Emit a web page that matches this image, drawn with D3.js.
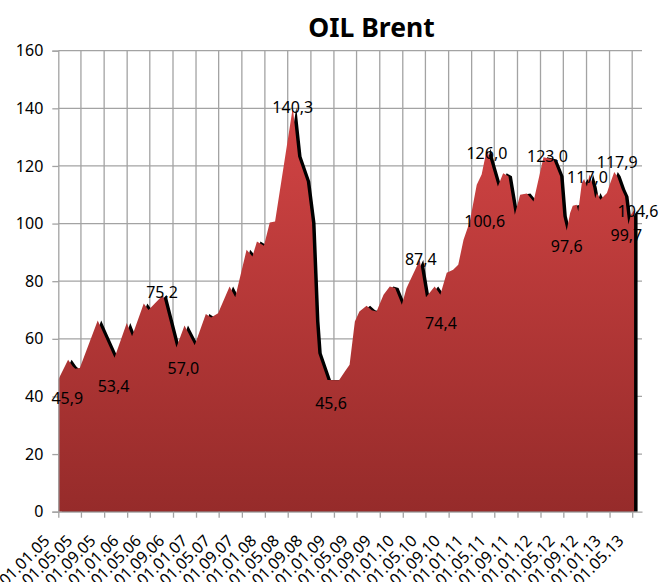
<!DOCTYPE html>
<html>
<head>
<meta charset="utf-8">
<script src="https://d3js.org/d3.v7.min.js"></script>
<style>
  body { margin: 0; background: #fff; }
  svg text { font-family: "Noto Sans", "Open Sans", sans-serif; fill: #000; }
</style>
</head>
<body>
<div id="chart"></div>
<script>
// Brent, USD per barrel
const dates = [
  "2005-01-01", "2005-02-22", "2005-03-19", "2005-04-01", "2005-04-25", "2005-07-29",
  "2005-10-26", "2005-12-30", "2006-01-27", "2006-03-30", "2006-04-24", "2006-07-10",
  "2006-09-19", "2006-11-01", "2006-12-25", "2007-02-22", "2007-03-22", "2007-04-28",
  "2007-06-28", "2007-07-28", "2007-09-26", "2007-10-27", "2007-11-20", "2007-12-27",
  "2008-01-27", "2008-02-24", "2008-05-28", "2008-06-25", "2008-08-10", "2008-09-07",
  "2008-09-28", "2008-10-10", "2008-11-28", "2009-01-28", "2009-02-28", "2009-03-25",
  "2009-04-22", "2009-05-16", "2009-06-23", "2009-07-20", "2009-08-15", "2009-09-21",
  "2009-10-24", "2009-11-21", "2009-12-27", "2010-01-21", "2010-04-01", "2010-05-04",
  "2010-06-19", "2010-07-19", "2010-08-22", "2010-09-25", "2010-10-22", "2010-11-19",
  "2010-12-22", "2011-01-28", "2011-02-23", "2011-03-23", "2011-05-20", "2011-06-17",
  "2011-07-15", "2011-08-18", "2011-09-15", "2011-10-21", "2011-11-25", "2012-01-17",
  "2012-03-09", "2012-04-14", "2012-05-01", "2012-05-19", "2012-06-06", "2012-06-20",
  "2012-07-11", "2012-07-19", "2012-08-07", "2012-08-19", "2012-09-03", "2012-09-17",
  "2012-10-06", "2012-10-17", "2012-10-26", "2012-11-13", "2012-11-30", "2012-12-18",
  "2013-01-05", "2013-01-26", "2013-02-10", "2013-03-07", "2013-03-24", "2013-04-11",
  "2013-04-24", "2013-05-11"
]
const prices = [
  45.9, 52.7, 50.4, 49.6, 49.9, 66.4,
  53.4, 65.5, 60.9, 72.3, 70.0, 75.2,
  57.0, 64.6, 57.8, 68.6, 67.4, 68.9,
  78.2, 74.4, 90.9, 88.6, 93.8, 92.3,
  100.4, 100.7, 140.3, 123.3, 114.6, 100.2,
  66.0, 55.0, 45.7, 45.6, 48.7, 51.0,
  66.0, 69.5, 71.5, 69.9, 69.5, 75.3,
  78.2, 77.6, 71.8, 77.6, 87.4, 74.4,
  78.2, 75.3, 82.9, 84.0, 85.7, 94.4,
  100.6, 113.5, 117.0, 126.0, 112.9, 117.5,
  116.4, 103.1, 110.0, 110.4, 107.7, 123.0,
  122.2, 116.4, 102.5, 97.6, 103.7, 106.2,
  106.5, 104.2, 114.1, 115.5, 112.9, 117.0,
  112.7, 108.8, 110.6, 108.3, 109.4, 110.6,
  114.1, 117.9, 116.4, 111.8, 109.4, 99.7,
  103.1, 104.6
]
// points that carry a value label
const labelDates = [
  "2005-01-01", "2005-10-26", "2006-07-10", "2006-09-19", "2008-05-28", "2009-01-28",
  "2010-04-01", "2010-05-04", "2011-03-23", "2010-12-22", "2012-01-17", "2012-05-19",
  "2012-09-17", "2013-01-26", "2013-05-11", "2013-04-11"
]
// where each label sits relative to its point (px)
const labelNudge = [
  [9, 19], [-1, 29], [-1, -3], [7, 21], [0, 0], [-8, 23],
  [1, 0], [15, 26], [0, 5], [15, 0], [4, -1], [0, 16],
  [-2, 3], [3, -10], [4, 1], [-2, 11]
]
const xTickLabels = [
  "01.01.05", "01.05.05", "01.09.05", "01.01.06", "01.05.06", "01.09.06", "01.01.07",
  "01.05.07", "01.09.07", "01.01.08", "01.05.08", "01.09.08", "01.01.09", "01.05.09",
  "01.09.09", "01.01.10", "01.05.10", "01.09.10", "01.01.11", "01.05.11", "01.09.11",
  "01.01.12", "01.05.12", "01.09.12", "01.01.13", "01.05.13"
]
const yTicks = [0, 20, 40, 60, 80, 100, 120, 140, 160]
const axisEnd = "2013-06-22"

const width = 660, height = 582
const plotLeft = 58.3, plotRight = 642, plotTop = 50.7, plotBottom = 511.7

const parse = d3.timeParse("%Y-%m-%d")
const parseTick = d3.timeParse("%d.%m.%y")
const data = dates.map((d, i) => ({date: parse(d), value: prices[i]}))
const byDate = new Map(data.map(d => [+d.date, d]))
const comma = d3.formatLocale({decimal: ",", thousands: " ", grouping: [3], currency: ["", ""]}).format(".1f")

const x = d3.scaleTime()
  .domain([parse(dates[0]), parse(axisEnd)])
  .range([plotLeft, plotRight])
const y = d3.scaleLinear()
  .domain([0, 160])
  .range([plotBottom, plotTop])

const svg = d3.select("#chart").append("svg")
  .attr("width", width)
  .attr("height", height)

const defs = svg.append("defs")
const grad = defs.append("linearGradient")
  .attr("id", "fillGrad")
  .attr("gradientUnits", "userSpaceOnUse")
  .attr("x1", 0).attr("x2", 0)
  .attr("y1", y(140)).attr("y2", y(0))
grad.append("stop").attr("offset", 0).attr("stop-color", "#d24444")
grad.append("stop").attr("offset", 1).attr("stop-color", "#962b2a")

// grid
const gridColor = "#a3a3a3"
svg.append("g").selectAll("line")
  .data(yTicks.slice(1))
  .join("line")
    .attr("x1", plotLeft).attr("x2", plotRight)
    .attr("y1", d => y(d)).attr("y2", d => y(d))
    .attr("stroke", gridColor).attr("stroke-width", 1.3)

const tickDates = xTickLabels.map(parseTick)
svg.append("g").selectAll("line")
  .data(tickDates.slice(1))
  .join("line")
    .attr("x1", d => x(d)).attr("x2", d => x(d))
    .attr("y1", plotTop).attr("y2", plotBottom)
    .attr("stroke", gridColor).attr("stroke-width", 1.3)

// area + its dark offset shadow
const area = d3.area()
  .x(d => x(d.date))
  .y0(y(0))
  .y1(d => y(d.value))

svg.append("path")
  .datum(data)
  .attr("d", area)
  .attr("fill", "#000")
  .attr("transform", "translate(3.5,0)")

svg.append("path")
  .datum(data)
  .attr("d", area)
  .attr("fill", "url(#fillGrad)")

// axes
const yAxis = svg.append("g")
  .attr("transform", `translate(${plotLeft},0)`)
  .call(d3.axisLeft(y).tickValues(yTicks).tickSize(6).tickPadding(9))
yAxis.select(".domain").attr("stroke", gridColor).attr("stroke-width", 1.3)
yAxis.selectAll(".tick line").attr("stroke", gridColor).attr("stroke-width", 1.3)
yAxis.selectAll(".tick text")
  .attr("font-size", 16)
  .attr("font-family", "Noto Sans")
  .attr("fill", "#000")

const xAxis = svg.append("g")
  .attr("transform", `translate(0,${plotBottom})`)
  .call(d3.axisBottom(x).tickValues(tickDates).tickFormat((d, i) => xTickLabels[i]).tickSize(6).tickSizeOuter(0))
xAxis.select(".domain").attr("stroke", gridColor).attr("stroke-width", 1.3)
xAxis.selectAll(".tick line").attr("stroke", gridColor).attr("stroke-width", 1.3)
xAxis.selectAll(".tick text")
  .attr("font-size", 16)
  .attr("font-family", "Noto Sans")
  .attr("fill", "#000")
  .attr("text-anchor", "end")
  .attr("y", 0).attr("dy", 0)
  .attr("transform", "translate(-8,30) rotate(-45)")

// value labels
svg.append("g").selectAll("text")
  .data(labelDates.map((d, i) => ({p: byDate.get(+parse(d)), n: labelNudge[i]})))
  .join("text")
    .attr("x", d => x(d.p.date) + d.n[0])
    .attr("y", d => y(d.p.value) + d.n[1])
    .attr("dy", "0.35em")
    .attr("text-anchor", "middle")
    .attr("font-size", 16)
    .text(d => comma(d.p.value))

svg.append("text")
  .attr("x", 371.5)
  .attr("y", 37)
  .attr("text-anchor", "middle")
  .attr("font-size", 26.5)
  .attr("font-weight", "bold")
  .text("OIL Brent")
</script>
</body>
</html>
